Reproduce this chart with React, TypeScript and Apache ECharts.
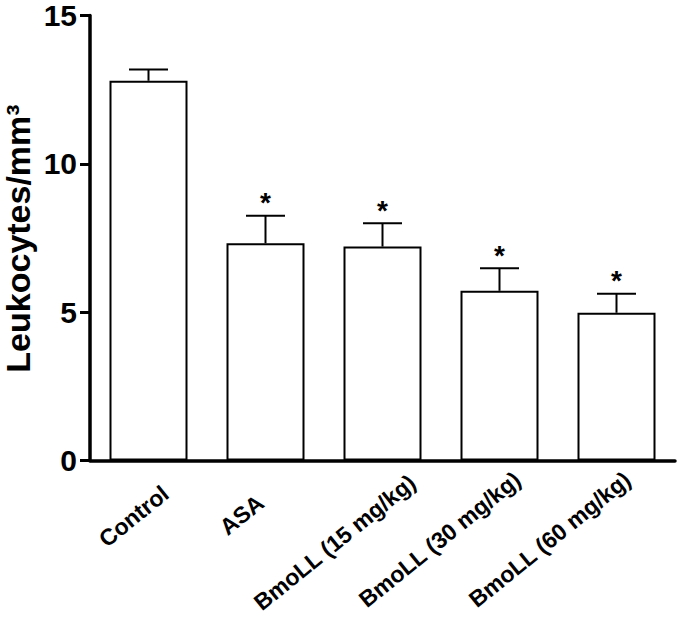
import React, { useEffect, useRef } from "react";
import * as echarts from "echarts";

// ---- data ----
const categories = [
  "Control",
  "ASA",
  "BmoLL (15 mg/kg)",
  "BmoLL (30 mg/kg)",
  "BmoLL (60 mg/kg)",
];
const means = [12.8, 7.32, 7.21, 5.72, 4.98];
const upperErrors = [13.18, 8.25, 8.0, 6.48, 5.62];
const significant = [false, true, true, true, true];
const yTicks = [0, 5, 10, 15];
const yTitle = "Leukocytes/mm³";

// ---- layout (not data) ----
const LABEL_OFFSETS: [number, number][] = [
  [17, 30],
  [-5, 39],
  [30, 19],
  [18, 16],
  [11, 16],
];
const LABEL_ANGLE = 39;
const FONT = '"Liberation Sans", Arial, Helvetica, sans-serif';

export default function App() {
  const ref = useRef<HTMLDivElement>(null);

  useEffect(() => {
    const chart = echarts.init(ref.current!, null, { renderer: "svg" });
    const axisStyle = { color: "#000", width: 3.5 };
    chart.setOption({
      animation: false,
      backgroundColor: "#fff",
      grid: { left: 90, right: 5, top: 15.5, bottom: 164.5 },
      xAxis: {
        type: "category",
        data: categories,
        axisLine: { lineStyle: axisStyle },
        axisTick: {
          alignWithLabel: true,
          length: 14,
          lineStyle: { color: "#000", width: 3 },
        },
        axisLabel: { show: false },
      },
      yAxis: {
        type: "value",
        min: yTicks[0],
        max: yTicks[yTicks.length - 1],
        interval: yTicks[1] - yTicks[0],
        axisLine: { show: true, lineStyle: axisStyle },
        axisTick: { show: true, length: 10, lineStyle: { color: "#000", width: 3 } },
        axisLabel: {
          fontSize: 30,
          fontWeight: "bold",
          color: "#000",
          fontFamily: FONT,
          margin: 13,
        },
        splitLine: { show: false },
      },
      series: [
        {
          type: "bar",
          data: means,
          barWidth: 78,
          itemStyle: { color: "#fff", borderColor: "#000", borderWidth: 2 },
          z: 2,
        },
        {
          type: "custom",
          z: 3,
          data: categories.map((c, i) => [i, means[i], upperErrors[i], significant[i] ? 1 : 0]),
          renderItem: (params: any, api: any) => {
            const x = api.value(0);
            const m = api.value(1);
            const u = api.value(2);
            const s = api.value(3);
            const pm = api.coord([x, m]);
            const pu = api.coord([x, u]);
            const st = { stroke: "#000", lineWidth: 2 };
            const children: any[] = [
              { type: "line", shape: { x1: pm[0], y1: pm[1], x2: pu[0], y2: pu[1] }, style: st },
              { type: "line", shape: { x1: pu[0] - 19.5, y1: pu[1], x2: pu[0] + 19.5, y2: pu[1] }, style: st },
            ];
            if (s) {
              children.push({
                type: "text",
                x: pu[0],
                y: pu[1] - 13,
                style: {
                  text: "*",
                  font: `bold 28px ${FONT}`,
                  fill: "#000",
                  align: "center",
                  verticalAlign: "middle",
                },
              });
            }
            return { type: "group", children };
          },
        },
      ],
    });

    const axisY = chart.convertToPixel({ yAxisIndex: 0 }, 0) as number;
    const graphics: any[] = categories.map((c, i) => {
      const tx = chart.convertToPixel({ xAxisIndex: 0 }, c) as number;
      return {
        type: "text",
        x: tx + LABEL_OFFSETS[i][0],
        y: axisY + LABEL_OFFSETS[i][1],
        rotation: (LABEL_ANGLE * Math.PI) / 180,
        style: {
          text: c,
          font: `bold 23px ${FONT}`,
          fill: "#000",
          align: "right",
          verticalAlign: "middle",
        },
      };
    });
    graphics.push({
      type: "text",
      x: 18,
      y: 238.5,
      rotation: Math.PI / 2,
      style: {
        text: yTitle,
        font: `bold 34px ${FONT}`,
        fill: "#000",
        align: "center",
        verticalAlign: "middle",
      },
    });
    chart.setOption({ graphic: graphics });

    return () => chart.dispose();
  }, []);

  return (
    <div
      ref={ref}
      style={{ position: "fixed", left: 0, top: 0, width: 680, height: 625, background: "#fff" }}
    />
  );
}
